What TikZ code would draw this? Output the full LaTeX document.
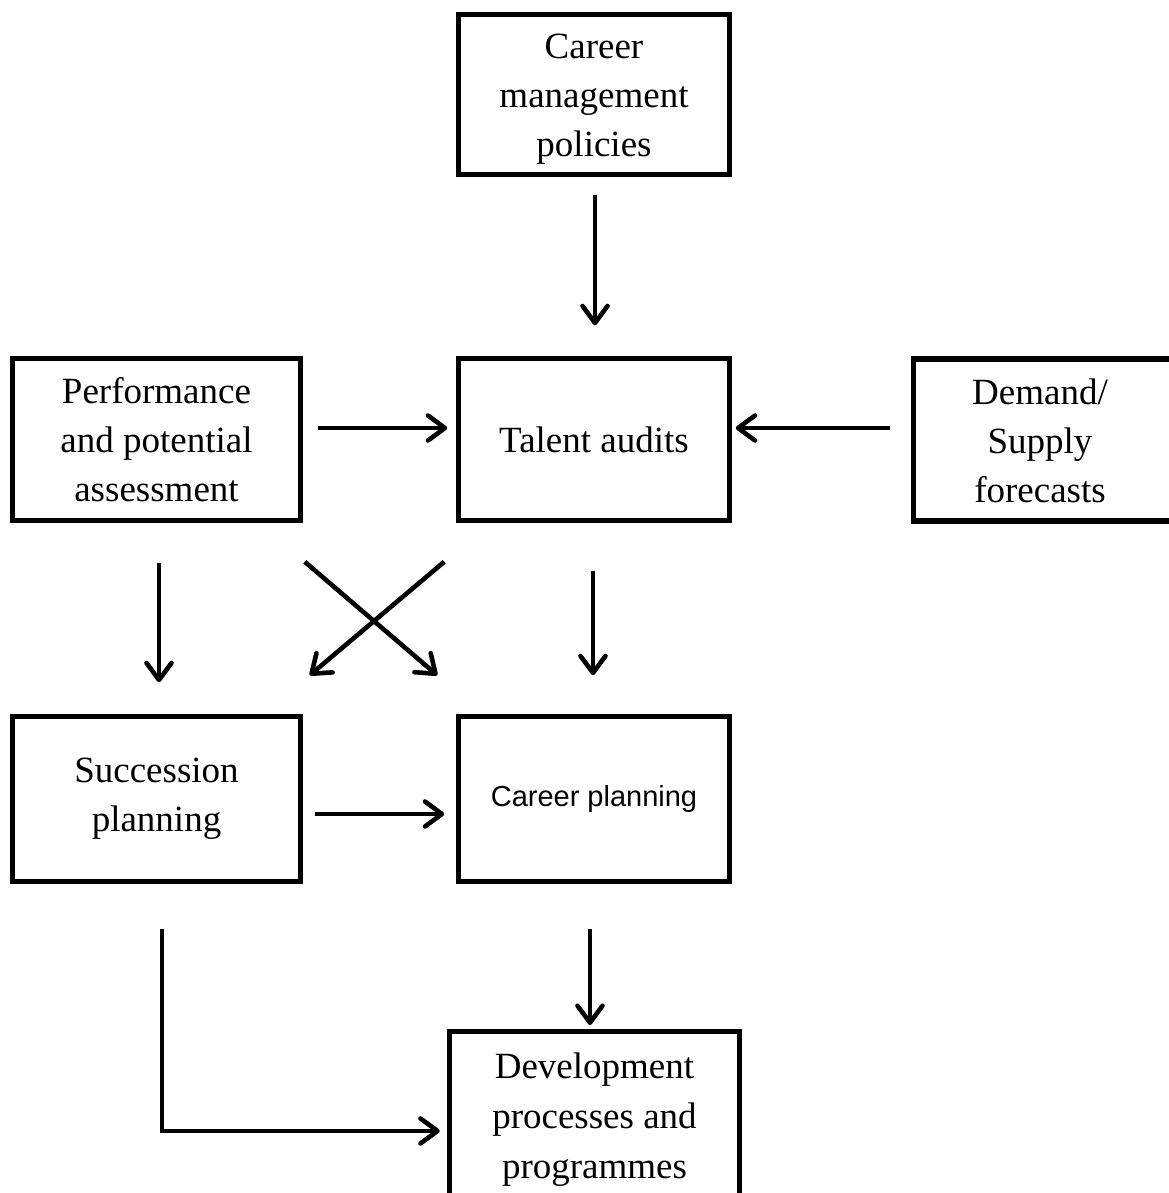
\documentclass[tikz,border=0pt]{standalone}
\usepackage{fontspec}
\setmainfont{Liberation Serif}
\newfontfamily\arialfont{Liberation Sans}
\usetikzlibrary{arrows.meta,calc}
\begin{document}
\begin{tikzpicture}[x=1pt,y=-1pt,
  boxline/.style={draw=black,line width=5.5pt},
  box/.style={boxline,rectangle,inner sep=0pt,align=center,
    font={\fontsize{37}{49}\selectfont}},
  txt/.style={inner sep=0pt,align=center,font={\fontsize{37}{49}\selectfont}},
  arr/.style={line width=4.6pt,-{Straight Barb[length=17pt,width=25pt,round]}}]
\useasboundingbox (0,0) rectangle (1168,1193);
% boxes
\node[box,minimum width=271pt,minimum height=160pt] (cmp) at (594,94.5) {};
\node[txt] (cmptext) at (594,99) {Career\\management\\policies};
\node[box,minimum width=288pt,minimum height=162pt] (perf) at (156.5,439.5) {Performance\\and potential\\assessment};
\node[box,minimum width=271pt,minimum height=162pt] (talent) at (594,439.5) {Talent audits};
\node[txt,minimum width=300pt,minimum height=162pt,anchor=west] (demand) at (913.5,440) {};
\draw[boxline,line cap=rect] (demand.north east) -- (demand.north west) -- (demand.south west) -- (demand.south east);
\node[txt] (demandtext) at (1040,441) {Demand/\\Supply\\forecasts};
\node[box,minimum width=288pt,minimum height=165pt] (succ) at (156.5,799) {Succession\\planning};
\node[box,minimum width=271pt,minimum height=165pt,font={\arialfont\fontsize{29}{35}\selectfont}] (cplan) at (594,799) {Career planning};
\node[txt,minimum width=290pt,minimum height=190pt,anchor=north] (dev) at (594.5,1031.5) {};
\draw[boxline,line cap=rect] (dev.south west) -- (dev.north west) -- (dev.north east) -- (dev.south east);
\node[txt,font={\fontsize{37}{50}\selectfont}] (devtext) at (594.5,1120) {Development\\processes and\\programmes};
% connectors
\draw[arr] ([shift={(1,17.5)}]cmp.south) -- ([shift={(1,-30.5)}]talent.north);
\draw[arr] ([shift={(14.5,-11.5)}]perf.east) -- ([shift={(-8.5,-11.5)}]talent.west);
\draw[arr] ([shift={(-23.5,-12)}]demand.west) -- ([shift={(3.5,-11.5)}]talent.east);
\draw[arr] ([shift={(2.5,39.5)}]perf.south) -- ([shift={(2.5,-31.5)}]succ.north);
\draw[arr] ([shift={(1.5,38.5)}]perf.south east) -- ([shift={(-18.5,-38.5)}]cplan.north west);
\draw[arr] ([shift={(-11.5,38.5)}]talent.south west) -- ([shift={(6.5,-38.5)}]succ.north east);
\draw[arr] ([shift={(-1,47.5)}]talent.south) -- ([shift={(-1,-38.5)}]cplan.north);
\draw[arr] ([shift={(11.5,15)}]succ.east) -- ([shift={(-11.5,15)}]cplan.west);
\draw[arr] ([shift={(-4,44.5)}]cplan.south) -- ([shift={(-4.5,-6.5)}]dev.north);
\draw[arr] ([shift={(5.5,44.5)}]succ.south) |- ([shift={(-9.5,4.25)}]dev.west);
\end{tikzpicture}
\end{document}
